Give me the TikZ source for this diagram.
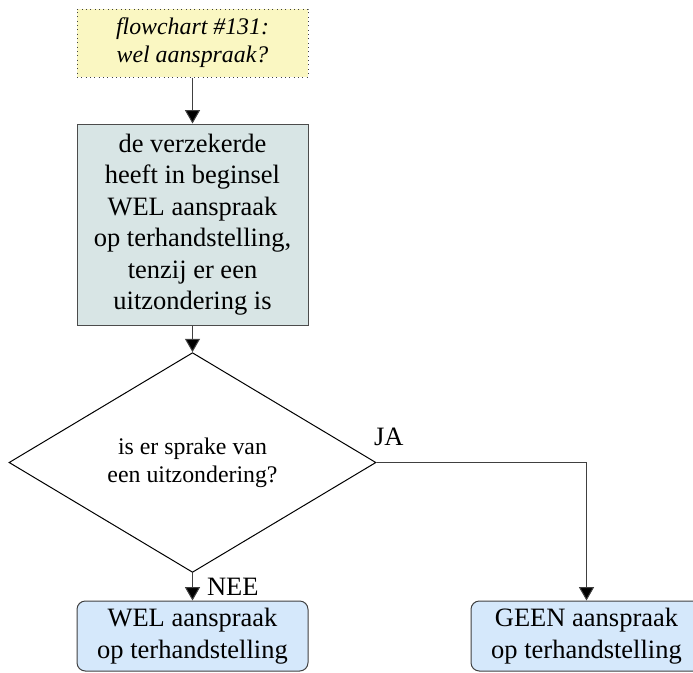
\documentclass[tikz,border=0pt]{standalone}
\usepackage{fontspec}
\setmainfont{Liberation Serif}
\usetikzlibrary{shapes.geometric,arrows.meta}
\definecolor{noteyellow}{HTML}{FAF7C2}
\definecolor{stepgrey}{HTML}{D8E5E5}
\definecolor{endblue}{HTML}{D5E8FB}
\begin{document}
\begin{tikzpicture}[x=0.6pt,y=-0.6pt,
    every node/.style={align=center,inner sep=0pt,font=\fontsize{15.9}{18.9}\selectfont},
    note/.style={rectangle,draw=black!75,dotted,line width=0.6pt,fill=noteyellow,
      minimum width=138.6pt,minimum height=40.8pt,font=\fontsize{14.3}{16.8}\selectfont\itshape},
    stepbox/.style={rectangle,draw=black!70,line width=0.6pt,fill=stepgrey,
      minimum width=138.6pt,minimum height=120.6pt},
    question/.style={diamond,draw=black,line width=0.6pt,
      minimum width=220.2pt,minimum height=108.6pt,font=\fontsize{14.3}{16.8}\selectfont},
    outcome/.style={rectangle,rounded corners=5pt,draw=black!75,line width=0.6pt,fill=endblue,
      minimum width=138.6pt,minimum height=42pt}]
        \tikzset{edge/.style = {-{Triangle[width=9pt,length=8pt,fill=black]},draw=black!75,line width=0.6pt}}
        \useasboundingbox (0,0) rectangle (693,672);
        \node[note] (title) at (192.5,43) {flowchart \#131:\\wel aanspraak?};
        \node[stepbox] (start) at (192.5,224.5) {de verzekerde\\heeft in beginsel\\WEL aanspraak\\op terhandstelling,\\tenzij er een\\uitzondering is};
        \node[question] (check) at (192.5,462.5) {is er sprake van\\een uitzondering?};
        \node[outcome] (wel) at (192.5,636) {WEL aanspraak\\op terhandstelling};
        \node[outcome] (geen) at (586.5,636) {GEEN aanspraak\\op terhandstelling};
        
        \draw[edge] (title) to (start);
        \draw[edge] (start) to (check);
        \draw[edge] (check.south) to node[midway,anchor=west,xshift=8.4pt] {NEE} (wel.north);
        \draw[edge] (check.east) -| node[pos=0,anchor=south west,xshift=-1.8pt,yshift=10pt] {JA} (geen.north);
\end{tikzpicture}
\end{document}
